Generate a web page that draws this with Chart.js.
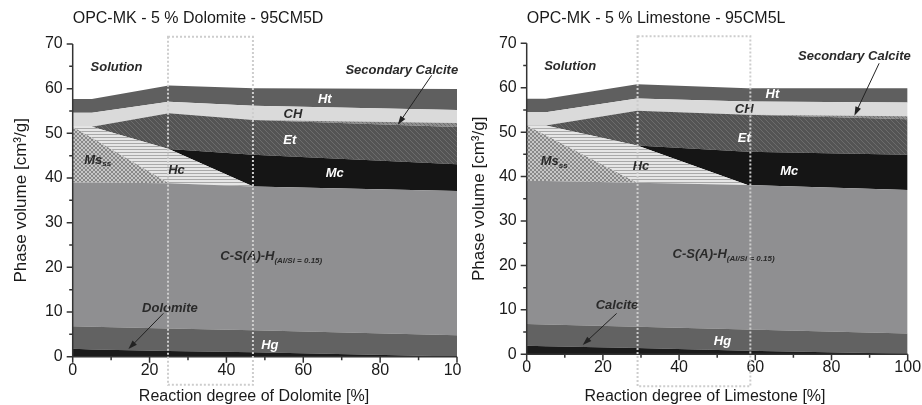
<!DOCTYPE html>
<html>
<head>
<meta charset="utf-8">
<script src="https://cdn.jsdelivr.net/npm/chart.js@4.4.1/dist/chart.umd.min.js"></script>
<style>
  body { margin: 0; background: #fff; }
  #wrap { position: relative; width: 922px; height: 405px; overflow: hidden; }
  .cell { position: absolute; top: 0; width: 461px; height: 405px; background: #fff; }
</style>
</head>
<body>
<div id="wrap">
  <div class="cell" style="left:0"><canvas id="dolomite" width="461" height="405"></canvas></div>
  <div class="cell" style="left:461px"><canvas id="limestone" width="461" height="405"></canvas></div>
</div>
<script>
// ---- data (phase volumes in cm3/g, stacked from the bottom up) ----
const yTicks = [0, 10, 20, 30, 40, 50, 60, 70];
const xTicks = [0, 20, 40, 60, 80, 100];

// 95CM5D: reaction degree of dolomite [%]
const xDolomite = [0, 5, 25, 47, 100];
const dolomiteD = [1.8, 1.6, 1.3, 1.0, 0.05];
const hgD       = [5.0, 5.1, 5.0, 4.9, 4.75];
const cshD      = [32.2, 32.3, 32.5, 32.2, 32.3];
const msD       = [12.5, 10.0, 0, 0, 0];
const hcD       = [0, 2.5, 7.7, 0, 0];
const mcD       = [0, 0, 0, 7.1, 6.0];
const etD       = [0, 0, 8.0, 7.8, 8.3];
const secCalD   = [0, 0, 0, 0, 0.9];
const chD       = [3.1, 3.1, 2.6, 3.2, 2.9];
const htD       = [3.1, 3.1, 3.6, 3.9, 4.7];

// 95CM5L: reaction degree of limestone [%]
const xLimestone = [0, 5, 29, 58, 100];
const calciteL  = [1.9, 1.8, 1.4, 0.8, 0.1];
const hgL       = [4.9, 4.9, 4.8, 4.8, 4.6];
const cshL      = [32.2, 32.3, 32.4, 32.5, 32.3];
const msL       = [12.5, 10.3, 0, 0, 0];
const hcL       = [0, 2.2, 8.4, 0, 0];
const mcL       = [0, 0, 0, 7.5, 7.9];
const etL       = [0, 0, 7.8, 8.3, 8.0];
const secCalL   = [0, 0, 0, 0, 0.7];
const chL       = [3.0, 3.0, 2.8, 3.0, 3.1];
const htL       = [3.0, 3.0, 3.2, 3.0, 3.2];

// ---- fill patterns ----
function makePattern(bg, fg, kind, s) {
  const c = document.createElement('canvas');
  c.width = s; c.height = s;
  const g = c.getContext('2d');
  g.fillStyle = bg;
  g.fillRect(0, 0, s, s);
  g.strokeStyle = fg;
  g.lineWidth = 1;
  g.beginPath();
  if (kind === 'horiz') {
    g.moveTo(0, s - 0.5); g.lineTo(s, s - 0.5);
  }
  if (kind === 'diag' || kind === 'cross') {
    g.moveTo(-1, -1); g.lineTo(s + 1, s + 1);
    g.moveTo(-1, s - 1); g.lineTo(1, s + 1);
    g.moveTo(s - 1, -1); g.lineTo(s + 1, 1);
  }
  if (kind === 'cross') {
    g.moveTo(s + 1, -1); g.lineTo(-1, s + 1);
    g.moveTo(1, -1); g.lineTo(-1, 1);
    g.moveTo(s + 1, s - 1); g.lineTo(s - 1, s + 1);
  }
  g.stroke();
  return g.createPattern(c, 'repeat');
}

const fills = {
  carb: '#1b1b1b',
  hg: '#626262',
  csh: '#8f8f91',
  ms: makePattern('#c6c6c6', '#888888', 'cross', 4),
  hc: makePattern('#e6e6e6', '#a9a9a9', 'horiz', 3),
  mc: '#151515',
  et: makePattern('#545454', '#6c6c6c', 'diag', 5),
  sc: makePattern('#8e8e8e', '#6e6e6e', 'diag', 4),
  ch: '#dadada',
  ht: '#5f5f5f'
};

function buildDatasets(xs, layers) {
  return layers.map((l, i) => ({
    label: l[0],
    data: xs.map((x, j) => ({ x: x, y: l[1][j] })),
    backgroundColor: fills[l[2]],
    borderWidth: 0,
    pointRadius: 0,
    fill: i === 0 ? 'origin' : '-1',
    tension: 0
  }));
}

// ---- drawing helpers ----
const LBL = 'bold italic 13px "Liberation Sans", Arial, sans-serif';
const SUB = 'bold italic 8px "Liberation Sans", Arial, sans-serif';
const DARK = '#2a2a2a';

function richText(ctx, parts, x, y, align, color) {
  let w = 0;
  parts.forEach(p => { ctx.font = p.font || LBL; w += ctx.measureText(p.t).width; });
  let cx = align === 'center' ? x - w / 2 : (align === 'right' ? x - w : x);
  ctx.textAlign = 'left';
  ctx.textBaseline = 'middle';
  ctx.fillStyle = color;
  parts.forEach(p => {
    ctx.font = p.font || LBL;
    ctx.fillText(p.t, cx, y + (p.dy || 0));
    cx += ctx.measureText(p.t).width;
  });
}

function arrow(ctx, x1, y1, x2, y2) {
  const ang = Math.atan2(y2 - y1, x2 - x1);
  ctx.strokeStyle = '#222';
  ctx.fillStyle = '#222';
  ctx.lineWidth = 1;
  ctx.beginPath();
  ctx.moveTo(x1, y1);
  ctx.lineTo(x2 - 6 * Math.cos(ang), y2 - 6 * Math.sin(ang));
  ctx.stroke();
  ctx.beginPath();
  ctx.moveTo(x2, y2);
  ctx.lineTo(x2 - 9 * Math.cos(ang) + 3 * Math.sin(ang), y2 - 9 * Math.sin(ang) - 3 * Math.cos(ang));
  ctx.lineTo(x2 - 9 * Math.cos(ang) - 3 * Math.sin(ang), y2 - 9 * Math.sin(ang) + 3 * Math.cos(ang));
  ctx.closePath();
  ctx.fill();
}

const annotPlugin = {
  id: 'annot',
  afterDraw(chart, args, o) {
    const ctx = chart.ctx, xs = chart.scales.x, ys = chart.scales.y, a = chart.chartArea;
    const px = v => xs.getPixelForValue(v), py = v => ys.getPixelForValue(v);
    ctx.save();

    // axis lines and tick marks (major + minor)
    ctx.strokeStyle = '#333';
    ctx.lineWidth = 1.5;
    ctx.beginPath();
    ctx.moveTo(a.left, a.top); ctx.lineTo(a.left, a.bottom); ctx.lineTo(a.right, a.bottom);
    for (let v = 0; v <= 70; v += 5) {
      const len = v % 10 === 0 ? 6 : 3.5;
      ctx.moveTo(a.left - len, py(v)); ctx.lineTo(a.left, py(v));
    }
    for (let v = 0; v <= 100; v += 10) {
      const len = v % 20 === 0 ? 6 : 3.5;
      ctx.moveTo(px(v), a.bottom); ctx.lineTo(px(v), a.bottom + len);
    }
    ctx.stroke();

    // titles
    ctx.fillStyle = '#1a1a1a';
    ctx.font = '16px "Liberation Sans", Arial, sans-serif';
    ctx.textAlign = 'left';
    ctx.textBaseline = 'middle';
    ctx.fillText(o.title, a.left, 19);
    ctx.textAlign = 'center';
    ctx.fillText(o.xTitle, o.xTitleX, 397);
    ctx.save();
    ctx.translate(o.yTitleX, (a.top + a.bottom) / 2);
    ctx.rotate(-Math.PI / 2);
    ctx.font = '17px "Liberation Sans", Arial, sans-serif';
    ctx.fillText('Phase volume [cm\u00B3/g]', 0, 0);
    ctx.restore();

    // phase labels
    o.labels.forEach(l => richText(ctx, l.parts, px(l.x), py(l.y), l.align || 'center', l.white ? '#fff' : DARK));
    o.arrows.forEach(r => arrow(ctx, px(r[0]), py(r[1]), px(r[2]), py(r[3])));

    // dotted frame
    ctx.strokeStyle = '#cdcdcd';
    ctx.lineWidth = 2;
    ctx.setLineDash([2, 2]);
    ctx.strokeRect(px(o.box[0]), py(71.6), px(o.box[1]) - px(o.box[0]), py(o.box[2]) - py(71.6));
    ctx.restore();
  }
};

function makeChart(id, xs, layers, geo, annot) {
  return new Chart(document.getElementById(id), {
    type: 'line',
    data: { datasets: buildDatasets(xs, layers) },
    plugins: [annotPlugin],
    options: {
      responsive: false,
      animation: false,
      layout: { padding: { left: 0, top: geo.top, right: 461 - geo.right, bottom: 0 } },
      plugins: { legend: { display: false }, tooltip: { enabled: false }, annot: annot },
      scales: {
        x: {
          type: 'linear', min: 0, max: 100,
          grid: { display: false, drawTicks: false },
          border: { display: false },
          afterBuildTicks: s => { s.ticks = xTicks.map(v => ({ value: v })); },
          afterFit: s => { s.height = 405 - geo.bottom; s.paddingLeft = 0; s.paddingRight = 0; },
          ticks: { color: '#1a1a1a', padding: 4, maxRotation: 0, font: { size: 16, family: '"Liberation Sans", Arial, sans-serif' } }
        },
        y: {
          stacked: true, min: 0, max: 70,
          grid: { display: false, drawTicks: false },
          border: { display: false },
          afterBuildTicks: s => { s.ticks = yTicks.map(v => ({ value: v })); },
          afterFit: s => { s.width = geo.left; s.paddingTop = 0; s.paddingBottom = 0; },
          ticks: { color: '#1a1a1a', padding: 10, font: { size: 16, family: '"Liberation Sans", Arial, sans-serif' } }
        }
      }
    }
  });
}

makeChart('dolomite', xDolomite, [
  ['Dolomite', dolomiteD, 'carb'], ['Hg', hgD, 'hg'], ['C-S(A)-H', cshD, 'csh'], ['Ms', msD, 'ms'],
  ['Hc', hcD, 'hc'], ['Mc', mcD, 'mc'], ['Et', etD, 'et'], ['Secondary Calcite', secCalD, 'sc'],
  ['CH', chD, 'ch'], ['Ht', htD, 'ht']
], { left: 72.7, right: 457, top: 44, bottom: 356.7 }, {
  title: 'OPC-MK - 5 % Dolomite - 95CM5D',
  xTitle: 'Reaction degree of Dolomite [%]', xTitleX: 254, yTitleX: 21,
  box: [24.8, 46.9, -6.3],
  labels: [
    { parts: [{ t: 'Solution' }], x: 11.4, y: 64.8 },
    { parts: [{ t: 'Secondary Calcite' }], x: 100.3, y: 64.1, align: 'right' },
    { parts: [{ t: 'Ht' }], x: 65.6, y: 57.6, white: true },
    { parts: [{ t: 'CH' }], x: 57.3, y: 54.3 },
    { parts: [{ t: 'Et' }], x: 56.5, y: 48.5, white: true },
    { parts: [{ t: 'Mc' }], x: 68.2, y: 41.0, white: true },
    { parts: [{ t: 'Hc' }], x: 27, y: 41.8 },
    { parts: [{ t: 'Ms' }, { t: 'ss', font: SUB, dy: 4 }], x: 6.5, y: 44 },
    { parts: [{ t: 'C-S(A)-H' }, { t: '(Al/Si = 0.15)', font: SUB, dy: 4 }], x: 38.4, y: 22.4, align: 'left' },
    { parts: [{ t: 'Dolomite' }], x: 25.3, y: 10.8 },
    { parts: [{ t: 'Hg' }], x: 51.3, y: 2.6, white: true }
  ],
  arrows: [[93.4, 63.0, 84.6, 51.9], [23.6, 9.7, 14.5, 1.7]]
});

makeChart('limestone', xLimestone, [
  ['Calcite', calciteL, 'carb'], ['Hg', hgL, 'hg'], ['C-S(A)-H', cshL, 'csh'], ['Ms', msL, 'ms'],
  ['Hc', hcL, 'hc'], ['Mc', mcL, 'mc'], ['Et', etL, 'et'], ['Secondary Calcite', secCalL, 'sc'],
  ['CH', chL, 'ch'], ['Ht', htL, 'ht']
], { left: 65.7, right: 446.7, top: 43.3, bottom: 354.3 }, {
  title: 'OPC-MK - 5 % Limestone - 95CM5L',
  xTitle: 'Reaction degree of Limestone [%]', xTitleX: 244, yTitleX: 18,
  box: [29.1, 58.7, -7.2],
  labels: [
    { parts: [{ t: 'Solution' }], x: 11.4, y: 64.9 },
    { parts: [{ t: 'Secondary Calcite' }], x: 100.8, y: 67.0, align: 'right' },
    { parts: [{ t: 'Ht' }], x: 64.5, y: 58.4, white: true },
    { parts: [{ t: 'CH' }], x: 57.1, y: 55.1 },
    { parts: [{ t: 'Et' }], x: 57.1, y: 48.6, white: true },
    { parts: [{ t: 'Mc' }], x: 68.9, y: 41.1, white: true },
    { parts: [{ t: 'Hc' }], x: 30, y: 42.4 },
    { parts: [{ t: 'Ms' }, { t: 'ss', font: SUB, dy: 4 }], x: 7.2, y: 43.4 },
    { parts: [{ t: 'C-S(A)-H' }, { t: '(Al/Si = 0.15)', font: SUB, dy: 4 }], x: 38.3, y: 22.4, align: 'left' },
    { parts: [{ t: 'Calcite' }], x: 23.7, y: 10.9 },
    { parts: [{ t: 'Hg' }], x: 51.4, y: 2.8, white: true }
  ],
  arrows: [[92.5, 65.5, 86, 53.7], [23.6, 9.2, 14.7, 2.1]]
});
</script>
</body>
</html>
